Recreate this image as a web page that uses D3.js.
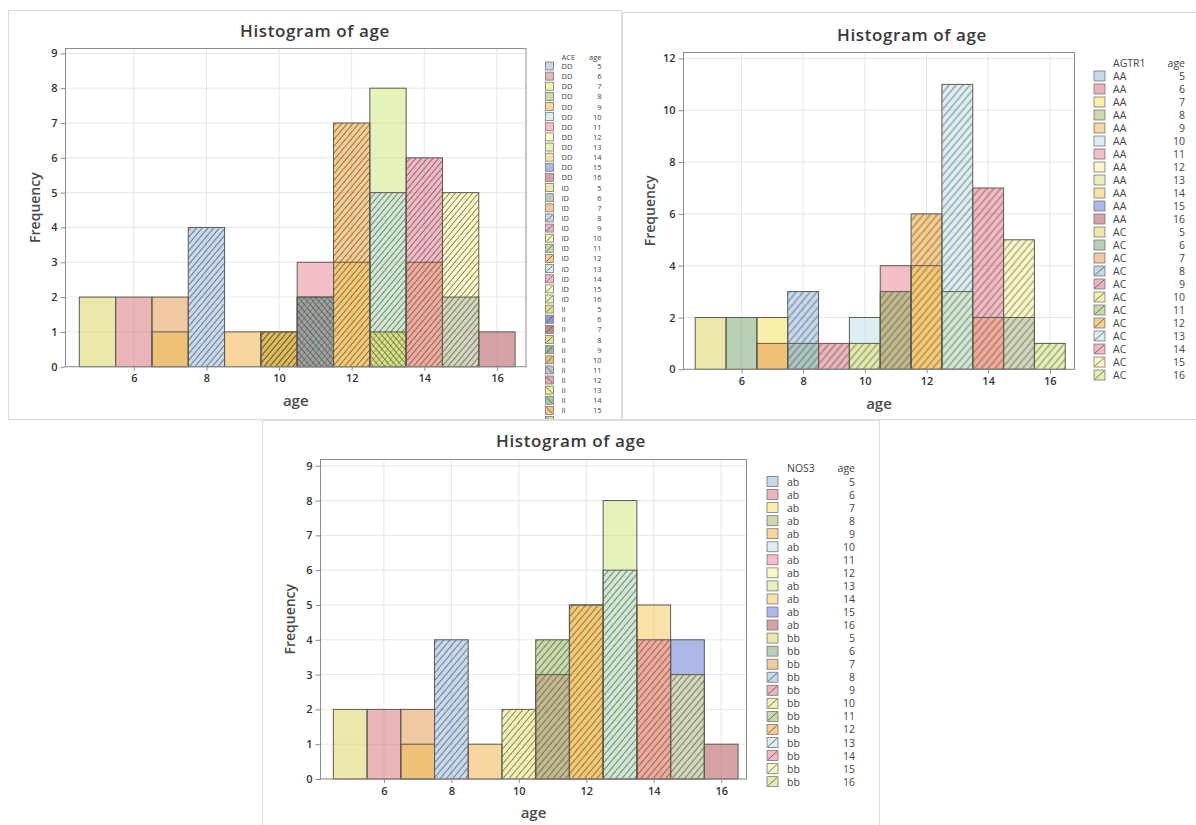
<!DOCTYPE html>
<html><head><meta charset="utf-8">
<script src="https://cdn.jsdelivr.net/npm/d3@7"></script>
<style>
body{margin:0;background:#fff;}
svg{display:block;font-family:"Open Sans","Noto Sans",sans-serif;}
</style></head><body>
<svg id="c" width="1196" height="825"></svg>
<script>
// ---------------- data ----------------
const ages = [5,6,7,8,9,10,11,12,13,14,15,16];
const xTicks = [6,8,10,12,14,16];
const titleText = "Histogram of age";
const xLabel = "age";
const yLabel = "Frequency";

// ACE panel (counts per age 5..16)
const aceGroups = ["DD","ID","II"];
const aceDD = [0,2,1,0,1,0,3,3,8,3,2,1];
const aceID = [2,0,2,4,0,1,2,7,5,6,5,0];
const aceII = [0,0,0,0,0,1,2,0,1,0,0,0];
const aceYTicks = [0,1,2,3,4,5,6,7,8,9];

// AGTR1 panel
const agtGroups = ["AA","AC"];
const agtAA = [0,0,2,1,0,2,4,4,3,2,2,0];
const agtAC = [2,2,1,3,1,1,3,6,11,7,5,1];
const agtYTicks = [0,2,4,6,8,10,12];

// NOS3 panel
const nosGroups = ["ab","bb"];
const nosAB = [0,2,1,0,1,0,3,5,8,5,4,1];
const nosBB = [2,0,2,4,0,2,4,5,6,4,3,0];
const nosYTicks = [0,1,2,3,4,5,6,7,8,9];

// ---------------- style ----------------
const colors1 = ["#c6d8ec","#e9b5b9","#f8f0a8","#cfd9ab","#f8d4a0","#dcedf4","#f3bec6","#fbf7c8","#e6f2bc","#f9e2a8","#aeb8e8","#d5a2a6"];
const colors2 = ["#ece7aa","#b8cfb4","#f0c8a2","#c4d8ee","#ecb4bc","#f4f2b0","#c8d8a8","#f8cc8c","#daeef2","#f4b8c4","#faf8c4","#e2f0b4"];
const colors3 = ["#e8e088","#8c9ad8","#c88888","#e0e090","#98bc98","#e4c07c","#bcc6d4","#eaa8b4","#f0ec9c","#a8c898","#f0c488","#d0e0a0"];
const hatch1 = ["","","","","","","","","","","",""];
const hatch2 = ["","","","f","f","f","f","f","f","f","f","f"];
const hatch3 = ["f","f","f","f","f","f","b","b","b","b","b","b"];
const ALPHA = 0.5;

const panels = [
  {groups:aceGroups, counts:[aceDD,aceID,aceII], colors:[colors1,colors2,colors3], hatch:[hatch1,hatch2,hatch3],
   header:"ACE", yTicks:aceYTicks, border:[8.5,10.5,613,409], titleX:315, titleY:30,
   left:65.5, right:526, top:48.5, bottom:366.7, xMax:16.8, yMax:9.14, freqX:34, ageY:400,
   swX:545.5, swW:8, swH:8, textX:561.5, ageX:601.5, headerY:57, rowY0:66, rowStep:10.13, lfont:7.5, clipB:419, hs:4.4},
  {groups:agtGroups, counts:[agtAA,agtAC], colors:[colors1,colors2], hatch:[hatch1,hatch2],
   header:"AGTR1", yTicks:agtYTicks, border:[622.5,12.5,580,407], titleX:912, titleY:34,
   left:683.5, right:1074.5, top:52.5, bottom:369.3, xMax:16.8, yMax:12.23, freqX:649, ageY:403,
   swX:1094, swW:11, swH:10, textX:1113, ageX:1185, headerY:63, rowY0:76, rowStep:13.0, lfont:10.5, clipB:825, hs:5.3},
  {groups:nosGroups, counts:[nosAB,nosBB], colors:[colors1,colors2], hatch:[hatch1,hatch2],
   header:"NOS3", yTicks:nosYTicks, border:[262.5,420.5,617,410], titleX:571, titleY:440,
   left:320.5, right:746.5, top:459.5, bottom:779, xMax:16.75, yMax:9.18, freqX:289, ageY:812,
   swX:767, swW:11, swH:10, textX:787, ageX:855, headerY:468, rowY0:481.5, rowStep:13.05, lfont:10.5, clipB:825, hs:4.8}
];

// base fill so that a bar at ALPHA opacity on white shows the palette colour
function baseFill(c){
  const k = d3.rgb(c), f = v => Math.max(0, 255 - (255 - v)/ALPHA);
  return d3.rgb(f(k.r), f(k.g), f(k.b)).formatHex();
}

const svg = d3.select("#c");
const defs = svg.append("defs");
svg.append("rect").attr("width",1196).attr("height",825).attr("fill","#fff");

function addPattern(id, s, angle){
  const p = defs.append("pattern").attr("id",id).attr("patternUnits","userSpaceOnUse")
    .attr("width",s).attr("height",s).attr("patternTransform",`rotate(${angle})`);
  p.append("line").attr("x1",s/2).attr("x2",s/2).attr("y1",-1).attr("y2",s+1)
    .attr("stroke","#4a4a4a").attr("stroke-width",0.8).attr("stroke-opacity",0.8);
}

panels.forEach((cfg, idx) => {
  const g = svg.append("g");
  addPattern(`hf${idx}`, cfg.hs, 40);
  addPattern(`hb${idx}`, cfg.hs, -40);
  defs.append("clipPath").attr("id",`clip${idx}`).append("rect")
    .attr("x",0).attr("y",0).attr("width",1196).attr("height",cfg.clipB);

  g.append("rect").attr("x",cfg.border[0]).attr("y",cfg.border[1]).attr("width",cfg.border[2]).attr("height",cfg.border[3])
    .attr("fill","#fff").attr("stroke","#dcdcdc");

  g.append("text").attr("x",cfg.titleX).attr("y",cfg.titleY).attr("text-anchor","middle").attr("dominant-baseline","central")
    .attr("font-size",17).attr("font-weight",600).attr("letter-spacing",0.6).attr("fill","#3a3a3a").text(titleText);

  const x = d3.scaleLinear().domain([4.12, cfg.xMax]).range([cfg.left, cfg.right]);
  const y = d3.scaleLinear().domain([0, cfg.yMax]).range([cfg.bottom, cfg.top]);

  // grid
  g.append("g").selectAll("line").data(cfg.yTicks).join("line")
    .attr("x1",cfg.left).attr("x2",cfg.right).attr("y1",d=>y(d)).attr("y2",d=>y(d)).attr("stroke","#e6e6e6");
  g.append("g").selectAll("line").data(xTicks).join("line")
    .attr("x1",d=>x(d)).attr("x2",d=>x(d)).attr("y1",cfg.top).attr("y2",cfg.bottom).attr("stroke","#e6e6e6");

  const recs = [];
  cfg.groups.forEach((gn,gi) => cfg.counts[gi].forEach((c,ai) => { if (c>0) recs.push({gi,ai,age:ages[ai],c}); }));
  const bx = d=>x(d.age-0.5), bw = d=>x(d.age+0.5)-x(d.age-0.5), by = d=>y(d.c), bh = d=>y(0)-y(d.c);

  const bars = g.append("g").selectAll("g").data(recs).join("g");
  bars.append("rect").attr("x",bx).attr("width",bw).attr("y",by).attr("height",bh)
    .attr("fill",d=>baseFill(cfg.colors[d.gi][d.ai])).attr("fill-opacity",ALPHA);
  bars.filter(d=>cfg.hatch[d.gi][d.ai]).append("rect")
    .attr("x",bx).attr("width",bw).attr("y",by).attr("height",bh)
    .attr("fill",d=>`url(#h${cfg.hatch[d.gi][d.ai]}${idx})`);
  g.append("g").selectAll("rect").data(recs).join("rect")
    .attr("x",bx).attr("width",bw).attr("y",by).attr("height",bh)
    .attr("fill","none").attr("stroke","#5e5b50").attr("stroke-width",1);

  // frame
  g.append("rect").attr("x",cfg.left).attr("y",cfg.top).attr("width",cfg.right-cfg.left).attr("height",cfg.bottom-cfg.top)
    .attr("fill","none").attr("stroke","#8c8c8c");

  // axes
  const ay = g.append("g").attr("transform",`translate(${cfg.left},0)`)
    .call(d3.axisLeft(y).tickValues(cfg.yTicks).tickSize(5).tickPadding(3).tickFormat(d3.format("d")));
  const ax = g.append("g").attr("transform",`translate(0,${cfg.bottom})`)
    .call(d3.axisBottom(x).tickValues(xTicks).tickSize(4).tickPadding(4).tickFormat(d3.format("d")));
  [ay,ax].forEach(a => {
    a.select(".domain").remove();
    a.attr("font-family",null).attr("font-size",null);
    a.selectAll("line").attr("stroke","#8c8c8c");
    a.selectAll("text").attr("font-size",11).attr("font-weight",600).attr("fill","#333");
  });

  g.append("text").attr("x",(cfg.left+cfg.right)/2).attr("y",cfg.ageY).attr("text-anchor","middle").attr("dominant-baseline","central")
    .attr("font-size",15).attr("font-weight",600).attr("fill","#4a4a4a").text(xLabel);
  g.append("text").attr("transform",`translate(${cfg.freqX},${(cfg.top+cfg.bottom)/2}) rotate(-90)`)
    .attr("text-anchor","middle").attr("dominant-baseline","central")
    .attr("font-size",14).attr("font-weight",600).attr("fill","#4a4a4a").text(yLabel);

  // legend
  const lg = g.append("g").attr("clip-path",`url(#clip${idx})`).attr("font-size",cfg.lfont);
  lg.append("text").attr("x",cfg.textX).attr("y",cfg.headerY).attr("dominant-baseline","central").attr("fill","#444").text(cfg.header);
  lg.append("text").attr("x",cfg.ageX).attr("y",cfg.headerY).attr("text-anchor","end").attr("dominant-baseline","central").attr("fill","#444").text(xLabel);
  const rows = [];
  cfg.groups.forEach((gn,gi) => ages.forEach((a,ai) => rows.push({gn,gi,ai,a,r:rows.length})));
  const row = lg.selectAll("g.row").data(rows).join("g").attr("class","row")
    .attr("transform",d=>`translate(0,${cfg.rowY0 + d.r*cfg.rowStep})`);
  row.append("rect").attr("x",cfg.swX).attr("y",-cfg.swH/2).attr("width",cfg.swW).attr("height",cfg.swH)
    .attr("fill",d=>cfg.colors[d.gi][d.ai]).attr("stroke","#777").attr("stroke-width",0.8);
  row.filter(d=>cfg.hatch[d.gi][d.ai]).append("line")
    .attr("x1",cfg.swX+1).attr("x2",cfg.swX+cfg.swW-1)
    .attr("y1",d=>cfg.hatch[d.gi][d.ai]==="f" ? cfg.swH/2-1 : -cfg.swH/2+1)
    .attr("y2",d=>cfg.hatch[d.gi][d.ai]==="f" ? -cfg.swH/2+1 : cfg.swH/2-1)
    .attr("stroke","#555").attr("stroke-width",0.8);
  row.append("text").attr("x",cfg.textX).attr("dominant-baseline","central").attr("fill","#444").text(d=>d.gn);
  row.append("text").attr("x",cfg.ageX).attr("text-anchor","end").attr("dominant-baseline","central").attr("fill","#444").text(d=>d.a);
});
</script>
</body></html>
